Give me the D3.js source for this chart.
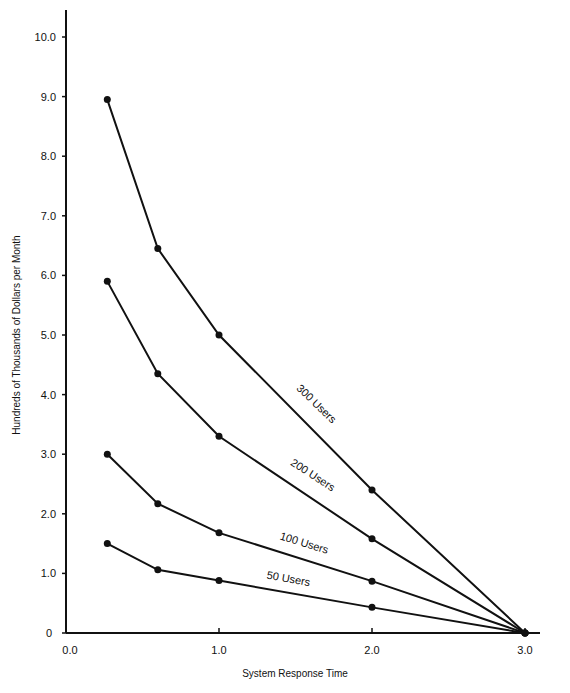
<!DOCTYPE html>
<html><head><meta charset="utf-8">
<script src="https://cdn.jsdelivr.net/npm/d3@7"></script>
<style>body{margin:0;background:#fff}text{font-family:"Liberation Sans",Arial,sans-serif;fill:#111}</style>
</head><body>
<svg id="chart" width="570" height="693"></svg>
<script>
const responseTimes = [0.27, 0.6, 1.0, 2.0, 3.0];
const users300 = [8.95, 6.45, 5.0, 2.4, 0];
const users200 = [5.9, 4.35, 3.3, 1.58, 0];
const users100 = [3.0, 2.17, 1.68, 0.87, 0];
const users50 = [1.5, 1.06, 0.88, 0.43, 0];
const seriesNames = ["300 Users", "200 Users", "100 Users", "50 Users"];
const xTicks = [0, 1, 2, 3];
const yTicks = [0, 1, 2, 3, 4, 5, 6, 7, 8, 9, 10];

const svg = d3.select("#chart");
const x = d3.scaleLinear().domain([0, 3]).range([66, 525]);
const y = d3.scaleLinear().domain([0, 10]).range([633, 37]);

// axes
svg.append("line").attr("x1", 66).attr("x2", 66).attr("y1", 10).attr("y2", 633)
  .attr("stroke", "#111").attr("stroke-width", 2);
svg.append("line").attr("x1", 66).attr("x2", 540).attr("y1", 633).attr("y2", 633)
  .attr("stroke", "#111").attr("stroke-width", 2);

svg.selectAll(".yt").data(yTicks).enter().append("line")
  .attr("x1", 62).attr("x2", 66).attr("y1", d => y(d)).attr("y2", d => y(d))
  .attr("stroke", "#111").attr("stroke-width", 1.5);
svg.selectAll(".yl").data(yTicks).enter().append("text")
  .attr("x", d => d === 0 ? 52 : 56).attr("y", d => y(d) + 4)
  .attr("text-anchor", "end").attr("font-size", 11)
  .text(d => d === 0 ? "0" : d.toFixed(1));

svg.selectAll(".xt").data(xTicks.slice(1)).enter().append("line")
  .attr("x1", d => x(d)).attr("x2", d => x(d)).attr("y1", 628).attr("y2", 633)
  .attr("stroke", "#111").attr("stroke-width", 1.5);
svg.selectAll(".xl").data(xTicks).enter().append("text")
  .attr("x", d => x(d) + (d === 0 ? 4 : 0)).attr("y", 654)
  .attr("text-anchor", "middle").attr("font-size", 11)
  .text(d => d.toFixed(1));

svg.append("text").attr("x", 295).attr("y", 677).attr("text-anchor", "middle")
  .attr("font-size", 10).text("System Response Time");
svg.append("text").attr("transform", "translate(20,335) rotate(-90)")
  .attr("text-anchor", "middle").attr("font-size", 10)
  .text("Hundreds of Thousands of Dollars per Month");

// lines
const allSeries = [users300, users200, users100, users50];
const line = d3.line().x((d, i) => x(responseTimes[i])).y(d => y(d));
allSeries.forEach(vals => {
  svg.append("path").attr("d", line(vals)).attr("fill", "none")
    .attr("stroke", "#111").attr("stroke-width", 2);
  svg.selectAll(null).data(vals).enter().append("circle")
    .attr("cx", (d, i) => x(responseTimes[i])).attr("cy", d => y(d))
    .attr("r", 3.5).attr("fill", "#111");
});

// labels along lines
const labelPos = [[1.62, 3.8, 44], [1.6, 2.6, 33], [1.55, 1.45, 17], [1.45, 0.85, 10]];
seriesNames.forEach((name, i) => {
  const p = labelPos[i];
  svg.append("text").attr("transform", `translate(${x(p[0])},${y(p[1])}) rotate(${p[2]})`)
    .attr("text-anchor", "middle").attr("font-size", 11).text(name);
});
</script>
</body></html>
